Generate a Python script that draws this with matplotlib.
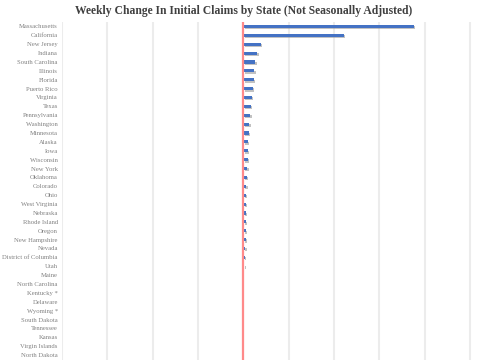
import matplotlib.pyplot as plt
import matplotlib.patheffects as pe
import numpy as np

# states top to bottom, weekly change in NSA initial claims
states = ['Massachusetts', 'California', 'New Jersey', 'Indiana', 'South Carolina',
          'Illinois', 'Florida', 'Puerto Rico', 'Virginia', 'Texas', 'Pennsylvania',
          'Washington', 'Minnesota', 'Alaska', 'Iowa', 'Wisconsin', 'New York',
          'Oklahoma', 'Colorado', 'Ohio', 'West Virginia', 'Nebraska', 'Rhode Island',
          'Oregon', 'New Hampshire', 'Nevada', 'District of Columbia', 'Utah', 'Maine',
          'North Carolina', 'Kentucky *', 'Delaware', 'Wyoming *', 'South Dakota',
          'Tennessee', 'Kansas', 'Virgin Islands', 'North Dakota']
change = [18800, 11100, 1900, 1560, 1330, 1220, 1170, 1060, 940, 830, 780,
          670, 610, 520, 510, 490, 450, 400, 350, 300, 290, 280, 270,
          260, 250, 210, 170, 90, 40, 30, 10, 5, 3, 2, 1, 1, 1, 0]

plt.rcParams['font.family'] = ['Liberation Serif', 'DejaVu Serif']

fig = plt.figure(figsize=(4.85, 3.6), dpi=100)
ax = fig.add_axes([62/485, 0.5/360, (484-62)/485, 337.5/360])

y = np.arange(len(states))
bars = ax.barh(y, change, height=0.35, color='#4472C4', zorder=3)
for b in bars:
    b.set_path_effects([pe.SimplePatchShadow(offset=(1, -1), shadow_rgbFace='#9a9a9a', alpha=0.6),
                        pe.Normal()])

ax.axvline(0, color='#ff8a8a', lw=1.6, zorder=4)

ax.set_ylim(len(states) - 0.5, -0.5)
ax.set_xlim(-20000, 26550)
ax.set_xticks(np.arange(-20000, 26000, 5000))
ax.set_xticklabels([])
ax.tick_params(axis='x', length=0)
ax.grid(axis='x', color='#ececec', lw=1.5, zorder=0)
ax.set_yticks(y)
ax.set_yticklabels(states, fontsize=4.8, color='#808080')
ax.tick_params(axis='y', length=0, pad=3)
for s in ax.spines.values():
    s.set_visible(False)

fig.text(0.503, 1 - 11/360, 'Weekly Change In Initial Claims by State (Not Seasonally Adjusted)',
         ha='center', va='center', fontsize=8.4, fontweight='bold', color='#404040')

fig.savefig('out.png', dpi=100, facecolor='white')
